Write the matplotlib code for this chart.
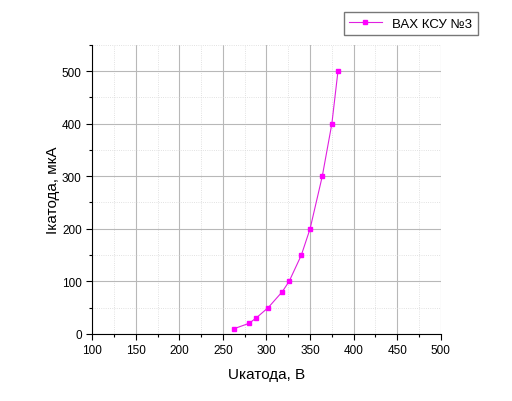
import matplotlib.pyplot as plt
from matplotlib.ticker import MultipleLocator

plt.rcParams['font.family'] = ['Liberation Sans', 'DejaVu Sans']

u_cathode = [263, 280, 288, 302, 318, 326, 340, 350, 364, 375, 382]
i_cathode = [10, 20, 30, 50, 80, 100, 150, 200, 300, 400, 500]

fig = plt.figure(figsize=(5.12, 4.02), dpi=100)
ax = fig.add_axes([0.18, 0.167, 0.681, 0.719])

ax.plot(u_cathode, i_cathode, color='#e020e0', lw=0.8, marker='s', ms=3.2,
        mfc='#ff00ff', mec='#ff00ff', label='ВАХ КСУ №3')

ax.set_xlim(100, 500)
ax.set_ylim(0, 550)
ax.xaxis.set_major_locator(MultipleLocator(50))
ax.xaxis.set_minor_locator(MultipleLocator(25))
ax.yaxis.set_major_locator(MultipleLocator(100))
ax.yaxis.set_minor_locator(MultipleLocator(50))
ax.set_yticks([0, 100, 200, 300, 400, 500])

ax.grid(which='major', color='#b8b8b8', lw=0.8)
ax.grid(which='minor', color='#d8d8d8', lw=0.6, ls=':')
ax.set_axisbelow(True)

for s in ['top', 'right']:
    ax.spines[s].set_visible(False)
ax.tick_params(which='major', length=4, width=0.8, labelsize=8.5, direction='out')
ax.tick_params(which='minor', length=2, width=0.8, direction='out')

ax.set_xlabel('Uкатода, В', fontsize=11, labelpad=8)
ax.set_ylabel('Ікатода, мкА', fontsize=11, labelpad=1)

fig.legend(loc='upper right', bbox_to_anchor=(0.946, 0.984), fontsize=9.5,
           frameon=True, fancybox=False, edgecolor='#555555', handlelength=2.5,
           borderpad=0.4)

fig.savefig('out.png', dpi=100)
